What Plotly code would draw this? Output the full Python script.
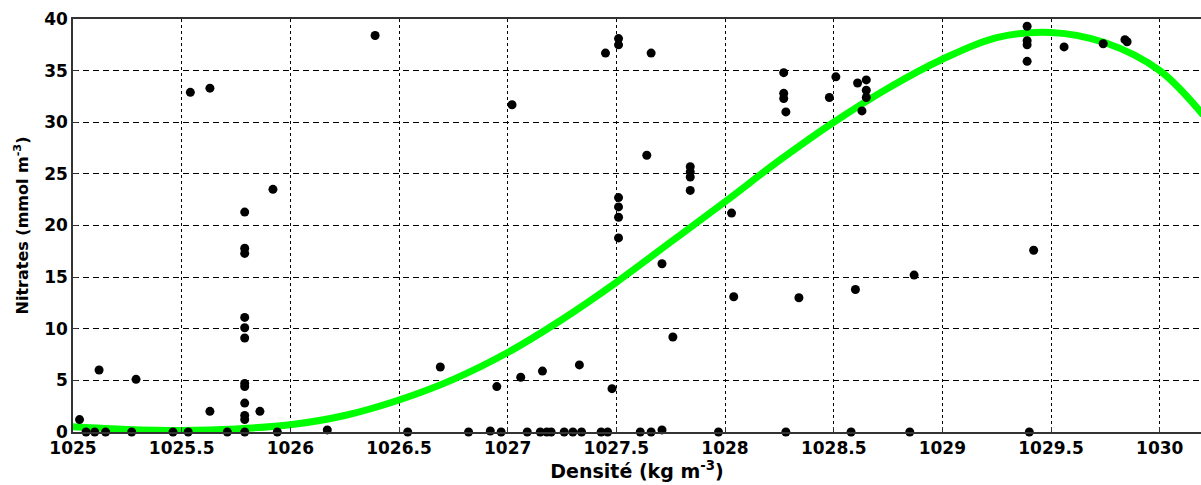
import plotly.graph_objects as go

# Observed points (density, nitrates)
dens = [1025.03, 1025.06, 1025.10, 1025.15, 1025.12, 1025.27, 1025.29, 1025.46, 1025.53,
        1025.54, 1025.63, 1025.63, 1025.71, 1025.79, 1025.79, 1025.79, 1025.79, 1025.79,
        1025.79, 1025.79, 1025.79, 1025.79, 1025.79, 1025.79, 1025.79, 1025.86, 1025.92,
        1025.94, 1026.17, 1026.39, 1026.54, 1026.69, 1026.82, 1026.92, 1026.95, 1026.97,
        1027.02, 1027.06, 1027.09, 1027.15, 1027.16, 1027.18, 1027.20, 1027.26, 1027.30,
        1027.33, 1027.34, 1027.43, 1027.45, 1027.46, 1027.48, 1027.51, 1027.51, 1027.51,
        1027.51, 1027.51, 1027.51, 1027.61, 1027.64, 1027.66, 1027.66, 1027.71, 1027.71,
        1027.76, 1027.84, 1027.84, 1027.84, 1027.84, 1027.97, 1028.03, 1028.04, 1028.27,
        1028.27, 1028.27, 1028.28, 1028.28, 1028.34, 1028.48, 1028.51, 1028.58, 1028.60,
        1028.61, 1028.65, 1028.65, 1028.65, 1028.63, 1028.85, 1028.87, 1029.39, 1029.39,
        1029.39, 1029.39, 1029.40, 1029.42, 1029.56, 1029.74, 1029.84, 1029.85]
nitr = [1.2, 0.0, 0.0, 0.0, 6.0, 0.0, 5.1, 0.0, 0.0,
        32.9, 33.3, 2.0, 0.0, 21.3, 17.8, 17.3, 11.1, 10.1,
        9.1, 4.7, 4.4, 2.8, 1.6, 1.2, 0.0, 2.0, 23.5,
        0.0, 0.2, 38.4, 0.0, 6.3, 0.0, 0.1, 4.4, 0.0,
        31.7, 5.3, 0.0, 0.0, 5.9, 0.0, 0.0, 0.0, 0.0,
        6.5, 0.0, 0.0, 36.7, 0.0, 4.2, 38.1, 37.5, 22.7,
        21.8, 20.8, 18.8, 0.0, 26.8, 36.7, 0.0, 16.3, 0.2,
        9.2, 25.7, 25.2, 24.7, 23.4, 0.0, 21.2, 13.1, 34.8,
        32.8, 32.3, 31.0, 0.0, 13.0, 32.4, 34.4, 0.0, 13.8,
        33.8, 34.1, 33.1, 32.4, 31.1, 0.0, 15.2, 39.3, 37.9,
        37.5, 35.9, 0.0, 17.6, 37.3, 37.6, 38.0, 37.8]

# Fitted curve
fit_x = [1025.0, 1025.25, 1025.5, 1025.75, 1026.0, 1026.25, 1026.5, 1026.75, 1027.0,
         1027.25, 1027.5, 1027.75, 1028.0, 1028.25, 1028.5, 1028.75, 1029.0, 1029.25,
         1029.5, 1029.75, 1030.0, 1030.2]
fit_y = [0.5, 0.25, 0.15, 0.3, 0.7, 1.6, 3.1, 5.1, 7.7,
         10.9, 14.5, 18.4, 22.3, 26.3, 30.0, 33.3, 36.1, 38.2,
         38.7, 37.7, 35.0, 30.7]

x_ticks = [1025, 1025.5, 1026, 1026.5, 1027, 1027.5, 1028, 1028.5, 1029, 1029.5, 1030]
x_labels = ["1025", "1025.5", "1026", "1026.5", "1027", "1027.5", "1028", "1028.5",
            "1029", "1029.5", "1030"]
y_ticks = [0, 5, 10, 15, 20, 25, 30, 35, 40]

fig = go.Figure()
fig.add_trace(go.Scatter(x=fit_x, y=fit_y, mode="lines",
                         line=dict(color="#00FF00", width=7, shape="spline"),
                         showlegend=False))
fig.add_trace(go.Scatter(x=dens, y=nitr, mode="markers",
                         marker=dict(color="black", size=9),
                         cliponaxis=False, showlegend=False))

font_b = "DejaVu Sans"
fig.update_layout(
    width=1201, height=485,
    margin=dict(l=73, r=0, t=19, b=53, autoexpand=False),
    paper_bgcolor="white", plot_bgcolor="white",
    font=dict(family=font_b, color="black"),
)
fig.update_xaxes(
    range=[1025, 1030.19], tickvals=x_ticks, ticktext=[f"<b>{t}</b>" for t in x_labels],
    tickfont=dict(size=17, family=font_b, color="black"),
    showgrid=True, gridcolor="black", gridwidth=1, griddash="3px,3px",
    showline=True, linecolor="#333333", linewidth=1.5, mirror=True,
    ticks="inside", ticklen=5, tickcolor="#333333", zeroline=False, automargin=False,
    title=dict(text="<b>Densité (kg m<sup>-3</sup>)</b>", font=dict(size=19, family=font_b),
               standoff=5),
)
fig.update_yaxes(
    range=[0, 40], tickvals=y_ticks, ticktext=[f"<b>{t}</b>" for t in y_ticks],
    tickfont=dict(size=17, family=font_b, color="black"),
    showgrid=True, gridcolor="black", gridwidth=1, griddash="6px,4px",
    showline=True, linecolor="#333333", linewidth=1.5, mirror=True,
    ticks="inside", ticklen=5, tickcolor="#333333", zeroline=False, automargin=False,
    title=dict(text="<b>Nitrates (mmol m<sup>-3</sup>)</b>", font=dict(size=16, family=font_b),
               standoff=12),
)
fig.write_html("out.html", config={"displayModeBar": False},
               post_script="document.body.style.margin='0';document.body.style.overflow='hidden';")
